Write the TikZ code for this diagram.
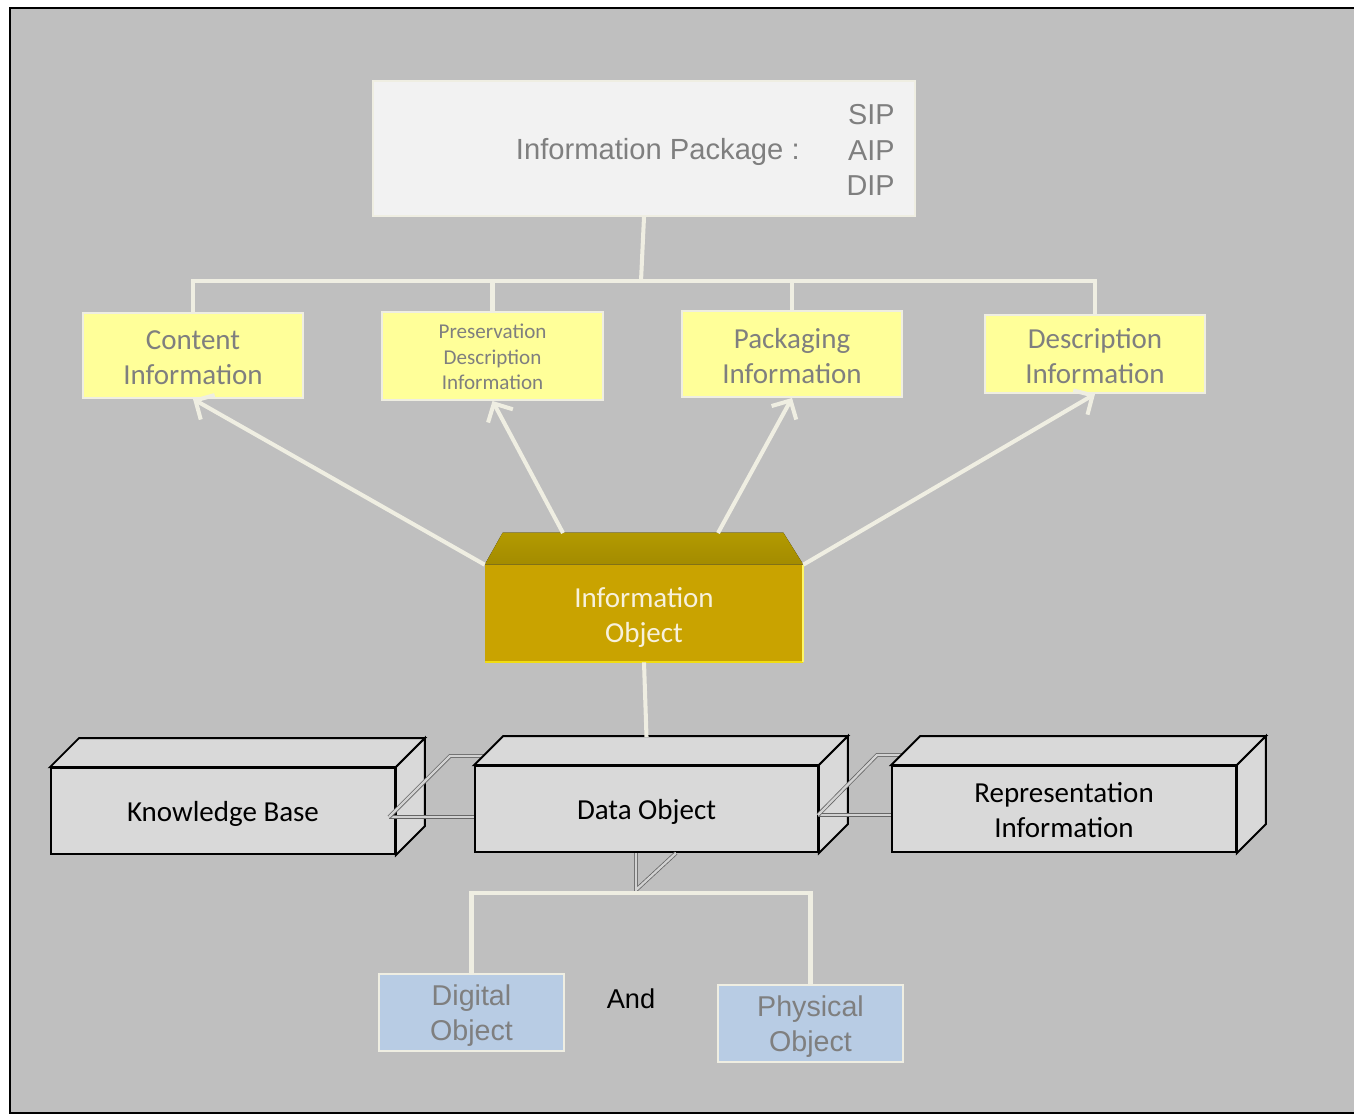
\documentclass[tikz,border=0pt]{standalone}
\usepackage{fontspec}
\setmainfont{Carlito}
\newfontfamily\arial{Liberation Sans}
\usetikzlibrary{arrows.meta,calc}

\definecolor{bg}{HTML}{BFBFBF}
\definecolor{cream}{HTML}{EFEEE2}
\definecolor{pale}{HTML}{F2F2F2}
\definecolor{lemon}{HTML}{FFFF99}
\definecolor{sky}{HTML}{B8CCE4}
\definecolor{txtgray}{HTML}{7F7F7F}
\definecolor{boxgray}{HTML}{D9D9D9}
\definecolor{goldfront}{HTML}{C9A300}
\definecolor{goldtopA}{HTML}{B39A00}
\definecolor{goldtopB}{HTML}{A38B00}
\definecolor{ioText}{HTML}{F7F1DC}

\tikzset{
  infobox/.style={draw=cream, line width=1.1pt, fill=lemon, inner sep=0pt},
  infotext/.style={text=txtgray, align=center, inner sep=0pt,
    font=\fontsize{16.5}{19.8}\selectfont},
  objbox/.style={draw=cream, line width=1.1pt, fill=sky, inner sep=0pt},
  objtext/.style={text=txtgray, align=center, inner sep=0pt,
    font=\arial\fontsize{16.3}{19.5}\selectfont},
  tree/.style={draw=cream, line width=2.3pt},
  feed/.style={tree, -{Straight Barb[length=8pt,width=16pt]}},
  front3d/.style={draw=black, line width=1.1pt, fill=boxgray, inner sep=0pt,
    minimum height=1.72cm},
  text3d/.style={align=center, inner sep=0pt, font=\fontsize{16.5}{19.8}\selectfont},
  side3d/.style={draw=black, line width=1.1pt, fill=boxgray, line join=miter},
  pipe/.style={draw=black!60, line width=0.45pt, double=bg!70!white,
    double distance=1.3pt}
}

\begin{document}
\begin{tikzpicture}[x=0.02cm, y=-0.02cm]
\useasboundingbox (0,0) rectangle (1354,1117);

% background panel with its frame
\fill[bg] (10,8) rectangle (1354,1113);
\draw[line width=1.6pt] (1354,8) -- (10,8) -- (10,1113) -- (1354,1113);

% package box
\node[draw=cream, line width=1.1pt, fill=pale, minimum width=10.84cm,
      minimum height=2.7cm, inner sep=0pt] (ip) at (644,148.5) {};
\node[anchor=east, text=txtgray, inner sep=0pt,
      font=\arial\fontsize{16.6}{20}\selectfont] (iplabel) at (800,152)
      {Information Package :};
\node[anchor=east, align=right, text=txtgray, inner sep=0pt,
      font=\arial\fontsize{16.4}{20}\selectfont] (ipkinds) at (895,150)
      {SIP\\AIP\\DIP};

% the four kinds of information
\node[infobox, minimum width=4.4cm, minimum height=1.7cm] (content) at (193,355.5) {};
\node[infotext] (content-t) at (193,357.5) {Content\\Information};
\node[infobox, minimum width=4.42cm, minimum height=1.76cm] (pdi) at (492.5,356) {};
\node[infotext, font=\fontsize{12}{14.5}\selectfont] (pdi-t) at (492.5,357)
  {Preservation\\Description\\Information};
\node[infobox, minimum width=4.4cm, minimum height=1.72cm] (packaging) at (792,354) {};
\node[infotext] (packaging-t) at (792,356) {Packaging\\Information};
\node[infobox, minimum width=4.4cm, minimum height=1.56cm] (description) at (1095,354) {};
\node[infotext] (description-t) at (1095,356) {Description\\Information};

% tree from the package to its parts
\coordinate (hub) at (641,281);
\draw[tree] (ip.south) -- (hub);
\draw[tree, line join=miter] (content.north) |- (hub) -| (description.north);
\draw[tree] (pdi.north) -- (pdi.north |- hub);
\draw[tree] (packaging.north) -- (packaging.north |- hub);

% information object (bevelled block)
\node[fill=goldfront, minimum width=6.36cm, minimum height=1.94cm, inner sep=0pt]
      (io) at (644,613.5) {};
\node[text3d, text=ioText] (io-t) at (644,617.5) {Information\\Object};
\fill[top color=goldtopA, bottom color=goldtopB]
  (io.north west) -- ([shift={(18,-32)}]io.north west)
  -- ([shift={(-20,-32)}]io.north east) -- (io.north east) -- cycle;
\draw[yellow!70!goldfront, line width=1pt] (io.south west) -- (io.south east);
\draw[yellow!60!white, line width=1.2pt] (io.north east) -- (io.south east);
\coordinate (ioA) at (563,533);
\coordinate (ioB) at (718,533);

\draw[feed] (io.north west) -- (content.south);
\draw[feed] (ioA) -- (pdi.south);
\draw[feed] (ioB) -- (packaging.south);
\draw[feed] (io.north east) -- (description.south);

% knowledge base
\node[front3d, minimum width=6.88cm] (kb) at (223,811) {};
\node[text3d] (kb-t) at (223,814) {Knowledge Base};
\draw[side3d] (kb.north west) -- ([shift={(29,-29)}]kb.north west)
  -- ([shift={(29,-29)}]kb.north east) -- (kb.north east) -- cycle;
\draw[side3d] (kb.north east) -- ([shift={(29,-29)}]kb.north east)
  -- ([shift={(29,-29)}]kb.south east) -- (kb.south east) -- cycle;

% data object and its links
\coordinate (kbport) at (389,817);
\coordinate (doport) at (818,815);
\draw[pipe] (kbport) -- (475,817);
\draw[pipe] (kbport) -- (450,756) -- (492,756);

\node[front3d, minimum width=6.86cm] (do) at (646.5,809) {};
\node[text3d] (do-t) at (646.5,812) {Data Object};
\draw[side3d] (do.north west) -- ([shift={(29,-29)}]do.north west)
  -- ([shift={(29,-29)}]do.north east) -- (do.north east) -- cycle;
\draw[side3d] (do.north east) -- ([shift={(29,-29)}]do.north east)
  -- ([shift={(29,-29)}]do.south east) -- (do.south east) -- cycle;

\draw[tree] (io.south) -- (do.north |- 0,737);

\draw[pipe] (doport) -- (892,815);
\draw[pipe] (doport) -- (877,755) -- (910,755);

% representation information
\node[front3d, minimum width=6.88cm] (rep) at (1064,809) {};
\node[text3d] (rep-t) at (1064,810) {Representation\\Information};
\draw[side3d] (rep.north west) -- ([shift={(29,-29)}]rep.north west)
  -- ([shift={(29,-29)}]rep.north east) -- (rep.north east) -- cycle;
\draw[side3d] (rep.north east) -- ([shift={(29,-29)}]rep.north east)
  -- ([shift={(29,-29)}]rep.south east) -- (rep.south east) -- cycle;

% kinds of data object
\coordinate (fork) at (636,893);
\draw[pipe] (636,853) -- (636,890) -- (676,853);

\node[objbox, minimum width=3.7cm, minimum height=1.54cm] (digital) at (471.5,1012.5) {};
\node[objtext] (digital-t) at (471.5,1015.5) {Digital\\Object};
\node[objbox, minimum width=3.7cm, minimum height=1.54cm] (physical) at (810.5,1023.5) {};
\node[objtext] (physical-t) at (810.5,1026.5) {Physical\\Object};
\draw[tree, line join=miter] (digital.north) |- (fork) -| (physical.north);
\node[inner sep=0pt, font=\arial\fontsize{15.5}{18}\selectfont] (and) at (631,999) {And};

\end{tikzpicture}
\end{document}
